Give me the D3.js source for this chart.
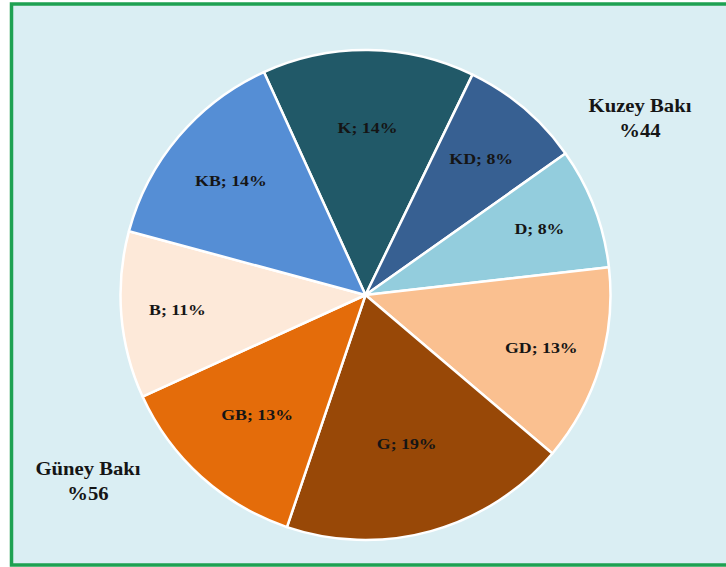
<!DOCTYPE html>
<html>
<head>
<meta charset="utf-8">
<script src="https://cdn.jsdelivr.net/npm/d3@7"></script>
<style>
  html, body { margin: 0; padding: 0; background: #ffffff; }
  svg { display: block; }
  text { font-family: "Liberation Serif", "Times New Roman", serif; font-weight: bold; fill: #151515; }
</style>
</head>
<body>
<div id="chart"></div>
<script>
// slices, clockwise from the top
var names = ["K", "KD", "D", "GD", "G", "GB", "B", "KB"];
var shares = [14, 8, 8, 13, 19, 13, 11, 14];
var colors = ["#215968", "#376092", "#93cddd", "#fac090", "#984807", "#e46c0a", "#fde9d9", "#558ed5"];

// the two group notes
var groupNames = ["Kuzey Bakı", "Güney Bakı"];
var groupShares = [44, 56];

var width = 726, height = 567;
var cx = 365.5, cy = 295, r = 245;

// how far out each label sits (share of the radius), like excel's best fit
var labelPos = {K: 0.68, KD: 0.73, D: 0.76, GD: 0.75, G: 0.63, GB: 0.66, B: 0.77, KB: 0.72};

var svg = d3.select("#chart")
  .append("svg")
  .attr("width", width)
  .attr("height", height);

// panel with green frame
svg.append("rect")
  .attr("x", 11.5)
  .attr("y", 4)
  .attr("width", 760)
  .attr("height", 561)
  .style("fill", "#daeef3")
  .style("stroke", "#1ea152")
  .style("stroke-width", 3.5);

var slices = names.map(function(n, i) { return {name: n, value: shares[i], color: colors[i]}; });

var startA = -24.5 * Math.PI / 180;
var pie = d3.pie()
  .sort(null)
  .value(function(d) { return d.value; })
  .startAngle(startA)
  .endAngle(startA + 2 * Math.PI);

var arc = d3.arc().innerRadius(0).outerRadius(r);

var g = svg.append("g")
  .attr("transform", "translate(" + cx + "," + cy + ")");

g.selectAll("path")
  .data(pie(slices))
  .enter().append("path")
  .attr("d", arc)
  .style("fill", function(d) { return d.data.color; })
  .style("stroke", "#ffffff")
  .style("stroke-width", 2.5)
  .style("stroke-linejoin", "round");

// slice labels
g.selectAll(".slice-label")
  .data(pie(slices))
  .enter().append("text")
  .attr("class", "slice-label")
  .attr("transform", function(d) {
    var lr = r * labelPos[d.data.name];
    var c = d3.arc().innerRadius(lr).outerRadius(lr).centroid(d);
    return "translate(" + c[0] + "," + (c[1] + 5) + ") scale(1.15,1)";
  })
  .attr("text-anchor", "middle")
  .style("font-size", "15.5px")
  .text(function(d) { return d.data.name + "; " + d.data.value + "%"; });

// group notes
var notePos = [[640, 112], [88, 475]];
groupNames.forEach(function(n, i) {
  var t = svg.append("text")
    .attr("transform", "translate(" + notePos[i][0] + "," + notePos[i][1] + ") scale(1.15,1)")
    .attr("text-anchor", "middle")
    .style("font-size", "18px");
  t.append("tspan").attr("x", 0).attr("y", 0).text(n);
  t.append("tspan").attr("x", 0).attr("y", 25).text("%" + groupShares[i]);
});
</script>
</body>
</html>
